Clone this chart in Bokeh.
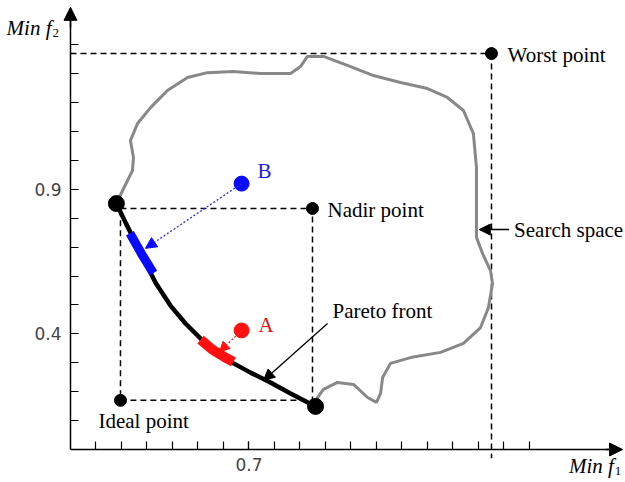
from bokeh.plotting import figure
from bokeh.models import Range1d, LinearAxis, FixedTicker, Arrow, NormalHead
from bokeh.core.properties import value
from bokeh.embed import file_html
from bokeh.resources import INLINE

# ---------------- data ----------------
x_major_ticks = [0.7]
x_major_labels = {0.7: "0.7"}
y_major_ticks = [0.4, 0.9]
y_major_labels = {0.4: "0.4", 0.9: "0.9"}
x_minor_ticks = [0.1, 0.2, 0.3, 0.4, 0.5, 0.6, 0.7, 0.8, 0.9, 1.0, 1.1, 1.2, 1.3, 1.4, 1.5, 1.6, 1.7, 1.8]
y_minor_ticks = [0.1, 0.2, 0.3, 0.4, 0.5, 0.6, 0.7, 0.8, 0.9, 1.0, 1.1, 1.2, 1.3, 1.4]

pareto_x = [0.180, 0.216, 0.255, 0.294, 0.333, 0.392, 0.451, 0.510, 0.569, 0.627, 0.706, 0.784, 0.863, 0.961]
pareto_y = [0.851, 0.785, 0.716, 0.647, 0.578, 0.498, 0.436, 0.384, 0.339, 0.304, 0.266, 0.232, 0.194, 0.149]

search_x = [0.180, 0.212, 0.243, 0.247, 0.235, 0.263, 0.314, 0.380, 0.459, 0.537, 0.639, 0.745, 0.863,
            0.902, 0.929, 0.992, 1.086, 1.188, 1.294, 1.400, 1.478, 1.541, 1.580, 1.592, 1.592, 1.592,
            1.616, 1.647, 1.655, 1.639, 1.608, 1.541, 1.451, 1.333, 1.255, 1.224, 1.216, 1.200, 1.165,
            1.110, 1.047, 0.992, 0.961]
search_y = [0.851, 0.910, 0.965, 1.010, 1.069, 1.128, 1.183, 1.242, 1.287, 1.304, 1.308, 1.301, 1.301,
            1.325, 1.360, 1.360, 1.329, 1.294, 1.270, 1.249, 1.218, 1.173, 1.093, 0.976, 0.862, 0.734,
            0.678, 0.619, 0.574, 0.491, 0.422, 0.367, 0.336, 0.318, 0.298, 0.249, 0.194, 0.163, 0.180,
            0.225, 0.232, 0.208, 0.170]

worst = (1.651, 1.370)
nadir = (0.949, 0.834)
ideal = (0.196, 0.170)
point_b = (0.671, 0.920)
point_a = (0.671, 0.412)

blue_x = [0.233, 0.278, 0.325]
blue_y = [0.748, 0.678, 0.610]
red_x = [0.510, 0.557, 0.604, 0.639]
red_y = [0.380, 0.345, 0.320, 0.303]

b_target = (0.294, 0.696)
a_target = (0.584, 0.338)

# ---------------- figure ----------------
p = figure(width=625, height=482, output_backend="svg", toolbar_location=None,
           x_range=Range1d(-0.2745, 2.1765), y_range=Range1d(-0.1142, 1.5536),
           x_axis_location=None, y_axis_location=None, min_border=0)
p.grid.visible = False
p.outline_line_color = None
p.background_fill_color = "white"

xaxis = LinearAxis(fixed_location=0, bounds=(0, 2.13),
                   ticker=FixedTicker(ticks=x_major_ticks, minor_ticks=x_minor_ticks),
                   major_label_overrides=x_major_labels,
                   major_tick_in=8, major_tick_out=0, minor_tick_in=8, minor_tick_out=0,
                   axis_line_width=1.5, major_tick_line_width=1.2, minor_tick_line_width=1.2,
                   major_label_standoff=9, major_label_text_font="DejaVu Sans",
                   major_label_text_font_size="17px", major_label_text_color="#444444")
yaxis = LinearAxis(fixed_location=0, bounds=(0, 1.49),
                   ticker=FixedTicker(ticks=y_major_ticks, minor_ticks=y_minor_ticks),
                   major_label_overrides=y_major_labels,
                   major_tick_in=8, major_tick_out=0, minor_tick_in=8, minor_tick_out=0,
                   axis_line_width=1.5, major_tick_line_width=1.2, minor_tick_line_width=1.2,
                   major_label_standoff=9, major_label_text_font="DejaVu Sans",
                   major_label_text_font_size="17px", major_label_text_color="#444444")
p.add_layout(xaxis, "below")
p.add_layout(yaxis, "left")

# axis arrowheads
p.add_layout(Arrow(x_start=2.10, y_start=0, x_end=2.165, y_end=0, line_width=1.5,
                   end=NormalHead(size=13, fill_color="black", line_color="black")))
p.add_layout(Arrow(x_start=0, y_start=1.46, x_end=0, y_end=1.53, line_width=1.5,
                   end=NormalHead(size=13, fill_color="black", line_color="black")))

dash = "6 4"
# worst point guides
p.line([0, worst[0]], [worst[1], worst[1]], line_color="black", line_width=1.5, line_dash=dash)
p.line([worst[0], worst[0]], [worst[1], -0.03], line_color="black", line_width=1.5, line_dash=dash)
# ideal / nadir rectangle
p.line([ideal[0], nadir[0], nadir[0], ideal[0], ideal[0]],
       [nadir[1], nadir[1], ideal[1], ideal[1], nadir[1]],
       line_color="black", line_width=1.5, line_dash=dash)

# search space
p.line(search_x, search_y, line_color="#888888", line_width=3)

# pareto front
p.line(pareto_x, pareto_y, line_color="black", line_width=4.5)

# highlighted segments
p.line(blue_x, blue_y, line_color="#0a0aff", line_width=9)
p.line(red_x, red_y, line_color="#ff1010", line_width=10)

# arrows from A and B
p.add_layout(Arrow(x_start=point_b[0], y_start=point_b[1], x_end=b_target[0], y_end=b_target[1],
                   line_color="#2a2aff", line_width=1.3, line_dash="2 2",
                   end=NormalHead(size=11, fill_color="#0a0aff", line_color="#0a0aff")))
p.add_layout(Arrow(x_start=point_a[0], y_start=point_a[1], x_end=a_target[0], y_end=a_target[1],
                   line_color="#ff2020", line_width=1.3, line_dash="2 2",
                   end=NormalHead(size=10, fill_color="#ff1010", line_color="#ff1010")))

# pareto front and search space pointers
p.add_layout(Arrow(x_start=1.008, y_start=0.436, x_end=0.757, y_end=0.239,
                   line_color="black", line_width=1.3,
                   end=NormalHead(size=11, fill_color="black", line_color="black")))
p.add_layout(Arrow(x_start=1.72, y_start=0.761, x_end=1.603, y_end=0.761,
                   line_color="black", line_width=1.5,
                   end=NormalHead(size=11, fill_color="black", line_color="black")))

# points
p.scatter([pareto_x[0], pareto_x[-1]], [pareto_y[0], pareto_y[-1]], size=16, color="black")
p.scatter([worst[0], nadir[0], ideal[0]], [worst[1], nadir[1], ideal[1]], size=12, color="black")
p.scatter([point_b[0]], [point_b[1]], size=15, color="#0a0aff")
p.scatter([point_a[0]], [point_a[1]], size=15, color="#ff1010")

serif = value("Liberation Serif")
def label(x, y, txt, dx, dy, color="black", size="21px", align="left", baseline="middle", style="normal"):
    p.text([x], [y], text=[txt], x_offset=dx, y_offset=dy, text_color=color,
           text_font=serif, text_font_size=size, text_align=align,
           text_baseline=baseline, text_font_style=style)

label(worst[0], worst[1], "Worst point", 16, 1)
label(nadir[0], nadir[1], "Nadir point", 15, 2)
label(ideal[0], ideal[1], "Ideal point", -22, 21)
label(1.72, 0.761, "Search space", 5, 0)
label(1.008, 0.436, "Pareto front", 5, -12)
label(point_b[0], point_b[1], "B", 16, -13, color="#1a1ae0")
label(point_a[0], point_a[1], "A", 17, -5, color="#e01010")

# axis titles
label(0, 1.457, "Min f", -19, 0, align="right", baseline="alphabetic", style="italic")
label(0, 1.457, "2", -18, 5, size="13px", baseline="alphabetic")
label(2.17, -0.0554, "Min f", -10, 0, align="right", baseline="alphabetic", style="italic")
label(2.17, -0.0554, "1", -9, 5, size="13px", baseline="alphabetic")

open("out.html", "w").write(file_html(p, INLINE))
